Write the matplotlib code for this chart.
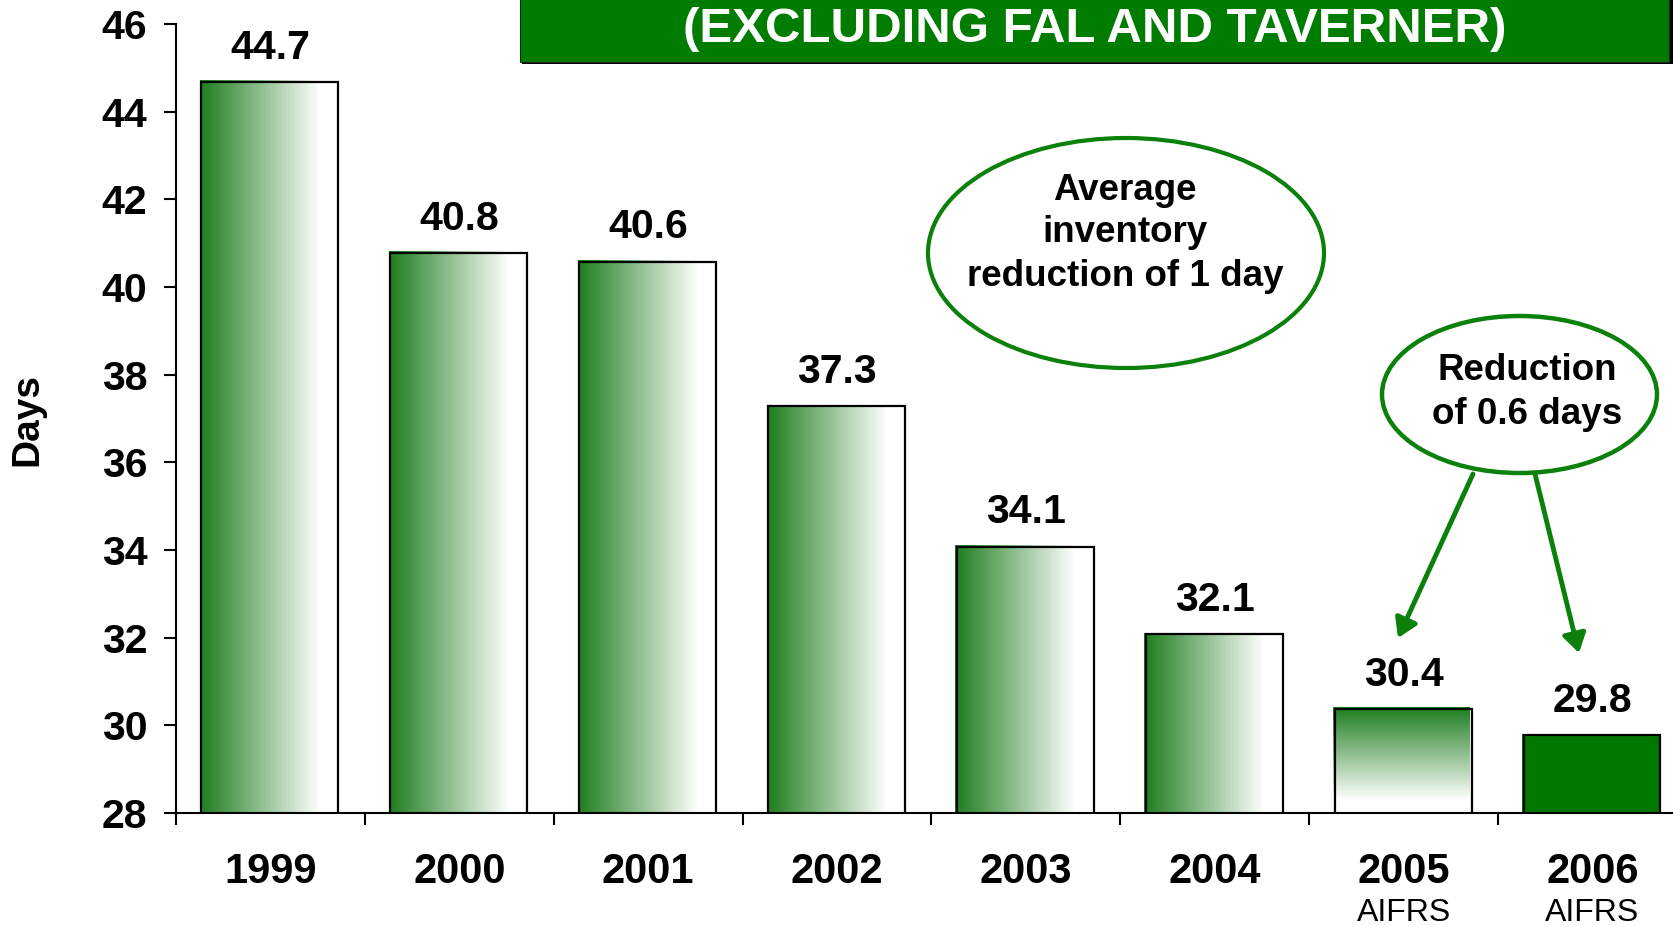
import numpy as np
import matplotlib
matplotlib.use('Agg')
import matplotlib.pyplot as plt
from matplotlib.patches import Rectangle, Ellipse
import matplotlib.transforms as mtransforms

# ---------------- data ----------------
years = ['1999', '2000', '2001', '2002', '2003', '2004', '2005', '2006']
days = [44.7, 40.8, 40.6, 37.3, 34.1, 32.1, 30.4, 29.8]
notes = ['', '', '', '', '', '', 'AIFRS', 'AIFRS']
fills = ['horizontal'] * 6 + ['vertical', 'solid']
yticks = [28, 30, 32, 34, 36, 38, 40, 42, 44, 46]
title = '(EXCLUDING FAL AND TAVERNER)'
bubble1 = ['Average', 'inventory', 'reduction of 1 day']
bubble2 = ['Reduction', 'of 0.6 days']
ylabel = 'Days'

plt.rcParams['font.family'] = ['Liberation Sans', 'DejaVu Sans']

W, H = 1674, 925
GREEN = '#0b800b'
GRAD_GREEN = np.array([30, 125, 30]) / 255.0
SOLID_GREEN = '#007800'

fig = plt.figure(figsize=(W / 100, H / 100), dpi=100)
ax = fig.add_axes([176 / W, 1 - 813 / H, 1511 / W, 789 / H])

bw = 0.725
shift = -0.011
t = np.linspace(0, 1, 256)
f = np.clip(t / 0.88, 0, 1)[:, None]
cols = GRAD_GREEN * (1 - f) + 1.0 * f
hgrad = cols[None, :, :]
vgrad = cols[:, None, :]

outline_tr = mtransforms.offset_copy(ax.transData, fig=fig, x=1.5, y=-1.0, units='dots')
for i, (v, fs) in enumerate(zip(days, fills)):
    x0 = i + shift - bw / 2
    if fs == 'solid':
        ax.add_patch(Rectangle((x0, 28), bw, v - 28, fc=SOLID_GREEN, ec='none', zorder=2))
    else:
        ax.imshow(hgrad if fs == 'horizontal' else vgrad, extent=(x0, x0 + bw, 28, v),
                  aspect='auto', origin='upper', interpolation='bilinear', zorder=2)
    ax.add_patch(Rectangle((x0, 28), bw, v - 28, fc='none', ec='black', lw=1.6,
                           zorder=3, transform=outline_tr))
    ax.annotate(f'{v}', (i, v), xytext=(0, 16), textcoords='offset points',
                ha='center', va='baseline', fontsize=29.5, fontweight='bold')

ax.set_xlim(-0.5, 7.5)
ax.set_ylim(28, 46)

ax.spines['top'].set_visible(False)
ax.spines['right'].set_visible(False)
for s in ('left', 'bottom'):
    ax.spines[s].set_linewidth(1.5)

ax.set_yticks(yticks)
ax.set_yticklabels([str(v) for v in yticks], fontsize=29.5, fontweight='bold')
ax.tick_params(axis='y', length=8.6, width=1.5, pad=12)
ax.set_xticks(np.arange(-0.5, 8, 1))
ax.tick_params(axis='x', length=8.6, width=1.5, labelbottom=False)

tr = mtransforms.blended_transform_factory(ax.transData, ax.transAxes)
for i, (yr, nt) in enumerate(zip(years, notes)):
    ax.text(i, -0.0887, yr, transform=tr, ha='center', va='baseline',
            fontsize=30, fontweight='bold', clip_on=False)
    if nt:
        ax.text(i, -0.1369, nt, transform=tr, ha='center', va='baseline',
                fontsize=23, clip_on=False)

fig.text(27 / W, 1 - 420 / H, ylabel, rotation=90, ha='center', va='center',
         fontsize=28, fontweight='bold')

# title box
fig.add_artist(Rectangle((522 / W, 1 - 64 / H), (1671 - 520) / W, 0.2,
                         transform=fig.transFigure, fc='black', ec='none'))
fig.add_artist(Rectangle((520 / W, 1 - 62 / H), (1669 - 520) / W, 0.2,
                         transform=fig.transFigure, fc='#007d00', ec='#222222', lw=0.8))
fig.text(1095 / W, 1 - 42 / H, title, color='white', fontsize=35.5, fontweight='bold',
         ha='center', va='baseline')

# bubble 1
fig.add_artist(Ellipse((1126 / W, 1 - 253 / H), 396 / W, 230 / H, transform=fig.transFigure,
                       fc='white', ec=GREEN, lw=3))
for txt, yy in zip(bubble1, [190, 233, 276]):
    fig.text(1125 / W, 1 - yy / H, txt, ha='center', va='center', fontsize=26.5,
             fontweight='bold')

# bubble 2
fig.add_artist(Ellipse((1519.5 / W, 1 - 394.5 / H), 275 / W, 157 / H, transform=fig.transFigure,
                       fc='white', ec=GREEN, lw=3.2))
for txt, yy in zip(bubble2, [371, 414]):
    fig.text(1527 / W, 1 - yy / H, txt, ha='center', va='center', fontsize=26.5,
             fontweight='bold')

for (xa, ya), (xb, yb) in [((1473, 474), (1398, 638)), ((1535, 474), (1579, 653))]:
    ax.annotate('', xy=(xb, H - yb), xycoords='figure pixels',
                xytext=(xa, H - ya), textcoords='figure pixels',
                arrowprops=dict(arrowstyle='-|>,head_length=0.8,head_width=0.5',
                                color=GREEN, lw=3.5, shrinkA=0, shrinkB=0,
                                mutation_scale=14))

fig.savefig('out.png', dpi=100)
